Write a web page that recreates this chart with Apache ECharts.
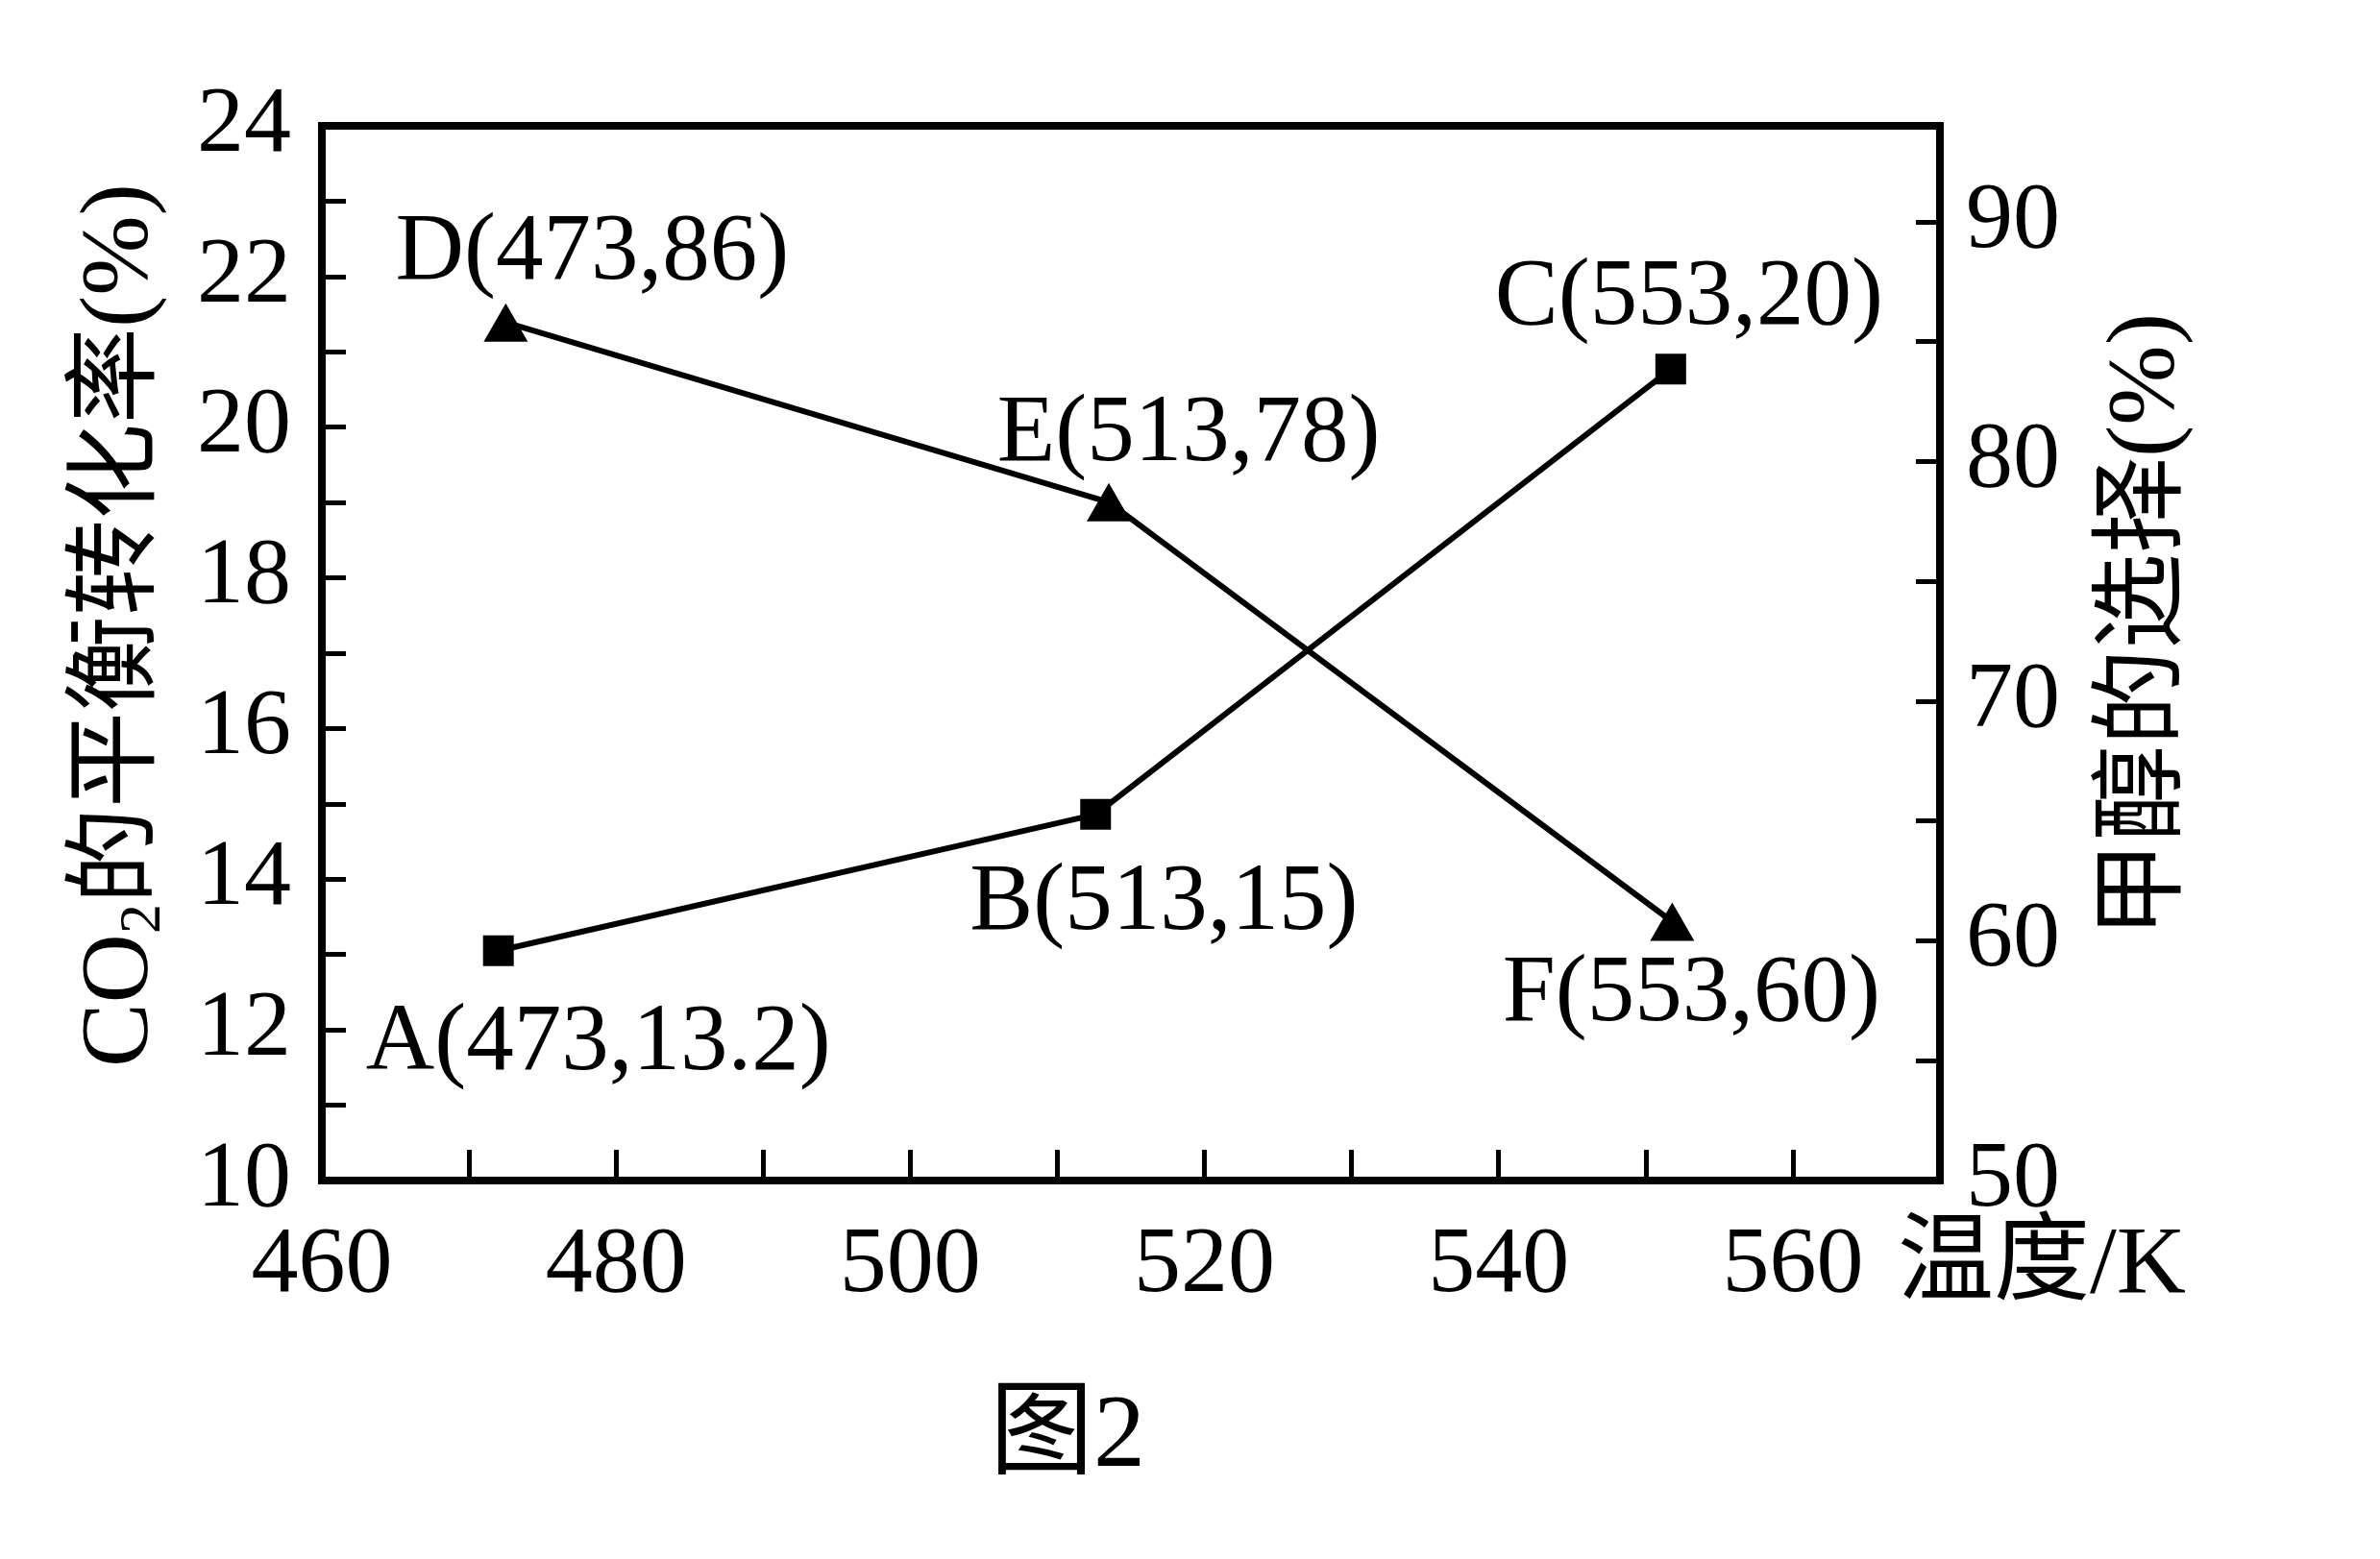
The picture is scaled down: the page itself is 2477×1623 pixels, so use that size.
<!DOCTYPE html>
<html>
<head>
<meta charset="utf-8">
<script src="https://cdn.jsdelivr.net/npm/echarts@6/dist/echarts.min.js"></script>
<style>
html,body{margin:0;padding:0;background:#fff;}
#chart{width:2477px;height:1623px;}
</style>
</head>
<body>
<div id="chart"></div>
<script>
// ---- data ----
const conversionLabels = ['A(473,13.2)', 'B(513,15)', 'C(553,20)'];
const conversionTemps = [472.0, 512.6, 551.7];
const conversionValues = [13.05, 14.86, 20.77];

const selectivityLabels = ['D(473,86)', 'E(513,78)', 'F(553,60)'];
const selectivityTemps = [472.5, 513.5, 551.8];
const selectivityValues = [85.8, 78.3, 60.8];

const xTickLabels = [460, 480, 500, 520, 540, 560];
const leftTickLabels = [10, 12, 14, 16, 18, 20, 22, 24];
const rightTickLabels = [50, 60, 70, 80, 90];

const xAxisTitle = '温度/K';
const leftAxisTitle = ['CO', '2', '的平衡转化率(%)'];
const rightAxisTitle = '甲醇的选择(%)';
const caption = '图2';

// ---- layout / style ----
const FONT = '"Liberation Serif", "Times New Roman", "Noto Sans CJK SC", serif';
const BLACK = '#000';
const conversionOffsets = [[104, 97], [71, 93], [19, -73]];
const selectivityOffsets = [[90, -72], [83, -70], [20, 77]];

const chart = echarts.init(document.getElementById('chart'), null, {renderer: 'canvas'});

function pick(list) {
  return function (v) { return list.indexOf(Math.round(v * 1000) / 1000) >= 0 ? String(v) : ''; };
}

const axisCommon = {
  type: 'value',
  splitLine: {show: false},
  axisLine: {show: true, onZero: false, lineStyle: {color: BLACK, width: 8}},
  axisTick: {show: true, inside: true, length: 25, lineStyle: {color: BLACK, width: 5}},
  axisLabel: {color: BLACK, fontFamily: FONT, fontSize: 98}
};

const option = {
  animation: false,
  backgroundColor: '#fff',
  title: {
    text: caption,
    left: 1025,
    top: 1439,
    textStyle: {fontFamily: FONT, fontSize: 108, fontWeight: 'normal', color: BLACK}
  },
  graphic: [
    {
      type: 'text',
      left: 1975,
      top: 1269,
      style: {text: xAxisTitle, fill: BLACK, fontFamily: FONT, fontSize: 100}
    }
  ],
  grid: {
    left: 335, right: 458, top: 131, bottom: 394,
    show: true, borderColor: BLACK, borderWidth: 8, backgroundColor: 'transparent',
    containLabel: false
  },
  xAxis: Object.assign({}, axisCommon, {
    min: 460, max: 570, interval: 10,
    axisTick: {show: true, inside: true, length: 32, lineStyle: {color: BLACK, width: 5}},
    axisLabel: {color: BLACK, fontFamily: FONT, fontSize: 98, margin: 40, formatter: pick(xTickLabels)}
  }),
  yAxis: [
    Object.assign({}, axisCommon, {
      position: 'left',
      min: 10, max: 24, interval: 1,
      axisLabel: {color: BLACK, fontFamily: FONT, fontSize: 98, margin: 32, formatter: pick(leftTickLabels)},
      name: '{t|' + leftAxisTitle[0] + '}{s|' + leftAxisTitle[1] + '}{t|' + leftAxisTitle[2] + '}',
      nameLocation: 'middle',
      nameRotate: 90,
      nameGap: 154,
      nameTextStyle: {
        color: BLACK, fontFamily: FONT, fontSize: 100,
        padding: [0, 0, 0, 58],
        rich: {
          t: {color: BLACK, fontFamily: FONT, fontSize: 100, lineHeight: 110},
          s: {color: BLACK, fontFamily: FONT, fontSize: 62, lineHeight: 110, verticalAlign: 'bottom'}
        }
      }
    }),
    Object.assign({}, axisCommon, {
      position: 'right',
      min: 50, max: 94, interval: 5,
      axisLabel: {color: BLACK, fontFamily: FONT, fontSize: 98, margin: 27, formatter: pick(rightTickLabels)},
      name: rightAxisTitle,
      nameLocation: 'middle',
      nameRotate: 90,
      nameGap: 166,
      nameTextStyle: {color: BLACK, fontFamily: FONT, fontSize: 100, padding: [0, 0, 0, 58]}
    })
  ],
  series: [
    {
      name: 'CO2平衡转化率',
      type: 'line',
      xAxisIndex: 0,
      yAxisIndex: 0,
      symbol: 'rect',
      symbolSize: 32,
      lineStyle: {color: BLACK, width: 6},
      itemStyle: {color: BLACK},
      label: {show: true, position: 'inside', color: BLACK, fontFamily: FONT, fontSize: 99, align: 'center', verticalAlign: 'middle'},
      data: conversionTemps.map(function (t, i) {
        return {value: [t, conversionValues[i]], label: {formatter: conversionLabels[i], offset: conversionOffsets[i]}};
      })
    },
    {
      name: '甲醇选择性',
      type: 'line',
      xAxisIndex: 0,
      yAxisIndex: 1,
      symbol: 'triangle',
      symbolSize: [46, 40],
      lineStyle: {color: BLACK, width: 6},
      itemStyle: {color: BLACK},
      label: {show: true, position: 'inside', color: BLACK, fontFamily: FONT, fontSize: 99, align: 'center', verticalAlign: 'middle'},
      data: selectivityTemps.map(function (t, i) {
        return {value: [t, selectivityValues[i]], label: {formatter: selectivityLabels[i], offset: selectivityOffsets[i]}};
      })
    }
  ]
};

chart.setOption(option);
</script>
</body>
</html>
